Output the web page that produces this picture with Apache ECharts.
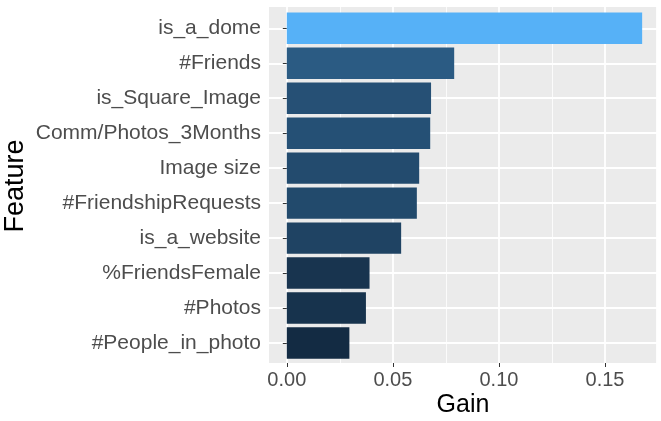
<!DOCTYPE html>
<html>
<head>
<meta charset="utf-8">
<script src="https://cdn.jsdelivr.net/npm/echarts@6/dist/echarts.min.js"></script>
<style>
  html, body { margin: 0; padding: 0; background: #fff; }
  #main { width: 661px; height: 421px; }
</style>
</head>
<body>
<div id="main"></div>
<script>
// feature importance (top to bottom)
var features = ['is_a_dome', '#Friends', 'is_Square_Image', 'Comm/Photos_3Months', 'Image size',
  '#FriendshipRequests', 'is_a_website', '%FriendsFemale', '#Photos', '#People_in_photo'];
var gain = [0.1675, 0.0789, 0.0680, 0.0676, 0.0624, 0.0613, 0.0539, 0.0390, 0.0373, 0.0295];
var xTicks = [0, 0.05, 0.10, 0.15];

var chartDom = document.getElementById('main');
var myChart = echarts.init(chartDom);
var font = 'Liberation Sans, Arial, sans-serif';
var xMax = 0.1745;

var option = {
  animation: false,
  backgroundColor: '#fff',
  grid: [
    // panel background
    {left: 269, right: 4, top: 7, bottom: 58, show: true, backgroundColor: '#EBEBEB', borderWidth: 0, outerBoundsMode: 'none'},
    // x scale + vertical grid lines
    {left: 286.8, right: 4, top: 7, bottom: 58, outerBoundsMode: 'none'},
    // horizontal grid lines
    {left: 269, right: 4, top: 28.3, bottom: 78, outerBoundsMode: 'none'},
    // bars
    {left: 286.8, right: 4, top: 28.3, bottom: 78, outerBoundsMode: 'none'}
  ],
  // y axis title
  graphic: [{
    type: 'text',
    x: 16,
    y: 186,
    rotation: Math.PI / 2,
    style: {
      text: 'Feature',
      fontFamily: font,
      fontSize: 27,
      fill: '#000',
      align: 'center',
      verticalAlign: 'middle'
    }
  }],
  visualMap: {
    show: false,
    type: 'continuous',
    seriesIndex: 0,
    dimension: 0,
    min: Math.min.apply(null, gain),
    max: Math.max.apply(null, gain),
    inRange: {color: ['#132B43', '#56B1F7']}
  },
  xAxis: [
    {
      gridIndex: 0, type: 'value', min: 0, max: 1,
      name: 'Gain', nameLocation: 'middle', nameGap: 30,
      nameTextStyle: {fontFamily: font, fontSize: 25, color: '#000'},
      axisLine: {show: false}, axisTick: {show: false}, axisLabel: {show: false}, splitLine: {show: false}
    },
    {
      gridIndex: 1, type: 'value', min: 0, max: xMax, interval: 0.05,
      axisLine: {show: false},
      axisTick: {show: true, length: 4, lineStyle: {color: '#333', width: 1}},
      axisLabel: {
        fontFamily: font, fontSize: 20, color: '#4D4D4D', margin: 7,
        showMaxLabel: false,
        formatter: function (v) {
          for (var i = 0; i < xTicks.length; i++) {
            if (Math.abs(v - xTicks[i]) < 1e-9) return xTicks[i].toFixed(2);
          }
          return '';
        }
      },
      splitLine: {show: true, lineStyle: {color: '#fff', width: 1.8}},
      minorTick: {show: false, splitNumber: 2},
      minorSplitLine: {show: true, lineStyle: {color: '#fff', width: 0.8}}
    },
    {gridIndex: 2, type: 'value', min: 0, max: 1, show: false},
    {gridIndex: 3, type: 'value', min: 0, max: xMax, show: false}
  ],
  yAxis: [
    {gridIndex: 0, type: 'value', show: false},
    {gridIndex: 1, type: 'value', show: false},
    {
      gridIndex: 2, type: 'category', data: features, inverse: true, boundaryGap: false,
      axisLine: {show: false}, axisTick: {show: false}, axisLabel: {show: false},
      splitLine: {show: true, lineStyle: {color: '#fff', width: 1.8}}
    },
    {
      gridIndex: 3, type: 'category', data: features, inverse: true, boundaryGap: false,
      offset: 17.8,
      axisLine: {show: false},
      axisTick: {show: true, length: 4, lineStyle: {color: '#333', width: 1}},
      axisLabel: {fontFamily: font, fontSize: 21, color: '#4D4D4D', margin: 8},
      splitLine: {show: false}
    }
  ],
  series: [
    {
      type: 'bar',
      xAxisIndex: 3,
      yAxisIndex: 3,
      barWidth: 31.4,
      data: gain
    }
  ]
};
option && myChart.setOption(option);
</script>
</body>
</html>
